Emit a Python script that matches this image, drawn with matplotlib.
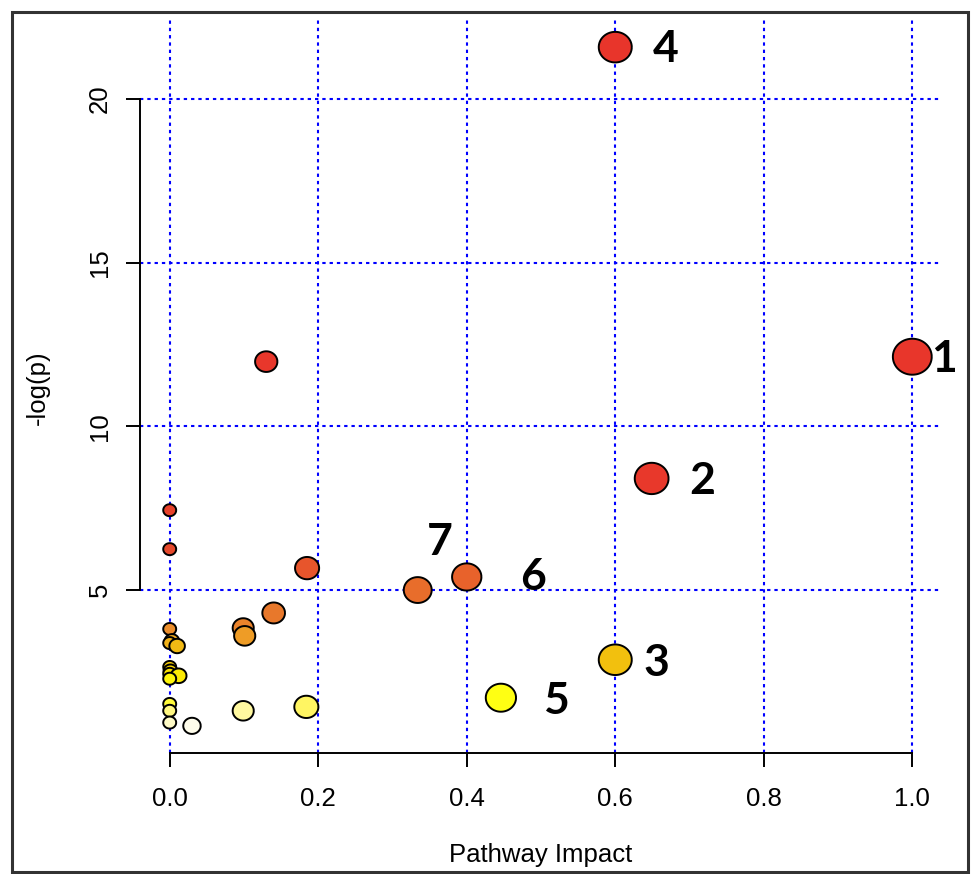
import numpy as np
import matplotlib
matplotlib.use("Agg")
import matplotlib.pyplot as plt
from matplotlib.path import Path
from matplotlib.patches import Rectangle
from matplotlib.colors import LinearSegmentedColormap

plt.rcParams["font.family"] = ["Liberation Sans", "DejaVu Sans"]

# pathway impact / -log(p)
impact = [0.600, 1.000, 0.130, 0.649, 0.000, 0.000, 0.185, 0.400, 0.334, 0.140,
          0.099, 0.000, 0.101, 0.003, 0.000, 0.010, 0.600, 0.000, 0.001, 0.000,
          0.012, 0.000, 0.446, 0.000, 0.184, 0.000, 0.099, 0.000, 0.030]
logp = [21.59, 12.13, 11.98, 8.41, 7.44, 6.25, 5.67, 5.40, 5.00, 4.30,
        3.84, 3.81, 3.60, 3.45, 3.38, 3.29, 2.87, 2.65, 2.53, 2.44,
        2.38, 2.29, 1.71, 1.52, 1.43, 1.31, 1.31, 0.95, 0.85]
# numbered pathways: label -> index in the arrays above
labels = {"1": 1, "2": 3, "3": 16, "4": 0, "5": 22, "6": 7, "7": 8}

xticks = [0.0, 0.2, 0.4, 0.6, 0.8, 1.0]
yticks = [5, 10, 15, 20]

x = np.array(impact)
y = np.array(logp)

# colour by significance rank (red -> yellow -> pale)
heat = LinearSegmentedColormap.from_list("heat", [
    (0.00, "#E8352B"), (0.107, "#E8382B"), (0.179, "#E64A2C"), (0.25, "#E8622B"),
    (0.321, "#E8782B"), (0.393, "#EC8E2C"), (0.464, "#F0AA20"), (0.571, "#F2C00E"),
    (0.679, "#FAE000"), (0.786, "#FFFF10"), (0.857, "#FFF560"), (0.929, "#FFF8A0"),
    (1.00, "#FFFDEB")])
rank = np.argsort(np.argsort(-y))
colors = heat(rank / (len(y) - 1))

# size grows with impact
d_px = 12 + 24 * np.sqrt(x)
sizes = (d_px * 1.08 * 0.72) ** 2

t = np.linspace(0, 2 * np.pi, 60)
ell = Path(np.column_stack([1.08 * np.cos(t), np.sin(t)]))

fig = plt.figure(figsize=(9.77, 8.74), dpi=100)
ax = fig.add_axes([140 / 977, 121 / 874, 802 / 977, 733 / 874])

xr = x.max() - x.min()
yr = y.max() - y.min()
ax.set_xlim(x.min() - 0.04 * xr, x.max() + 0.04 * xr)
ax.set_ylim(y.min() - 0.04 * yr, y.max() + 0.04 * yr)

ax.set_xticks(xticks)
ax.set_xticklabels([f"{v:.1f}" for v in xticks])
ax.set_yticks(yticks)
ax.set_yticklabels([str(v) for v in yticks])
ax.grid(True, color="blue", linestyle=(0, (1.6, 1.9)), linewidth=1.5)
ax.set_axisbelow(True)

for s in ["top", "right"]:
    ax.spines[s].set_visible(False)
ax.spines["left"].set_bounds(5, 20)
ax.spines["bottom"].set_bounds(0, 1)
ax.spines["left"].set_linewidth(1.4)
ax.spines["bottom"].set_linewidth(1.4)
ax.tick_params(direction="out", length=10, width=1.4, labelsize=18.5)
ax.tick_params(axis="x", pad=14.5)
ax.tick_params(axis="y", pad=10)
plt.setp(ax.get_yticklabels(), rotation=90, va="center")

ax.scatter(x, y, s=sizes, c=colors, marker=ell, edgecolors="black",
           linewidths=1.4, zorder=3)

offsets = {"1": (32, -15), "2": (51, -16), "3": (41, -16), "4": (50, -15),
           "5": (55, -16), "6": (66, -13), "7": (22, 35)}
for lab, i in labels.items():
    ax.annotate(lab, (x[i], y[i]), xytext=offsets[lab], textcoords="offset pixels",
                ha="center", va="baseline", fontsize=32, fontweight="bold",
                family="Lato", zorder=4)

fig.text(541 / 977, 1 - 862 / 874, "Pathway Impact", ha="center", va="baseline",
         fontsize=18.5)
fig.text(38 / 977, 1 - 388 / 874, "-log(p)", ha="center", va="center",
         rotation=90, fontsize=18.5)

fig.add_artist(Rectangle((12 / 977, 2 / 874), 956 / 977, 860 / 874,
                         transform=fig.transFigure, fill=False,
                         edgecolor="#333333", linewidth=2.2))

fig.savefig("out.png", dpi=100)
